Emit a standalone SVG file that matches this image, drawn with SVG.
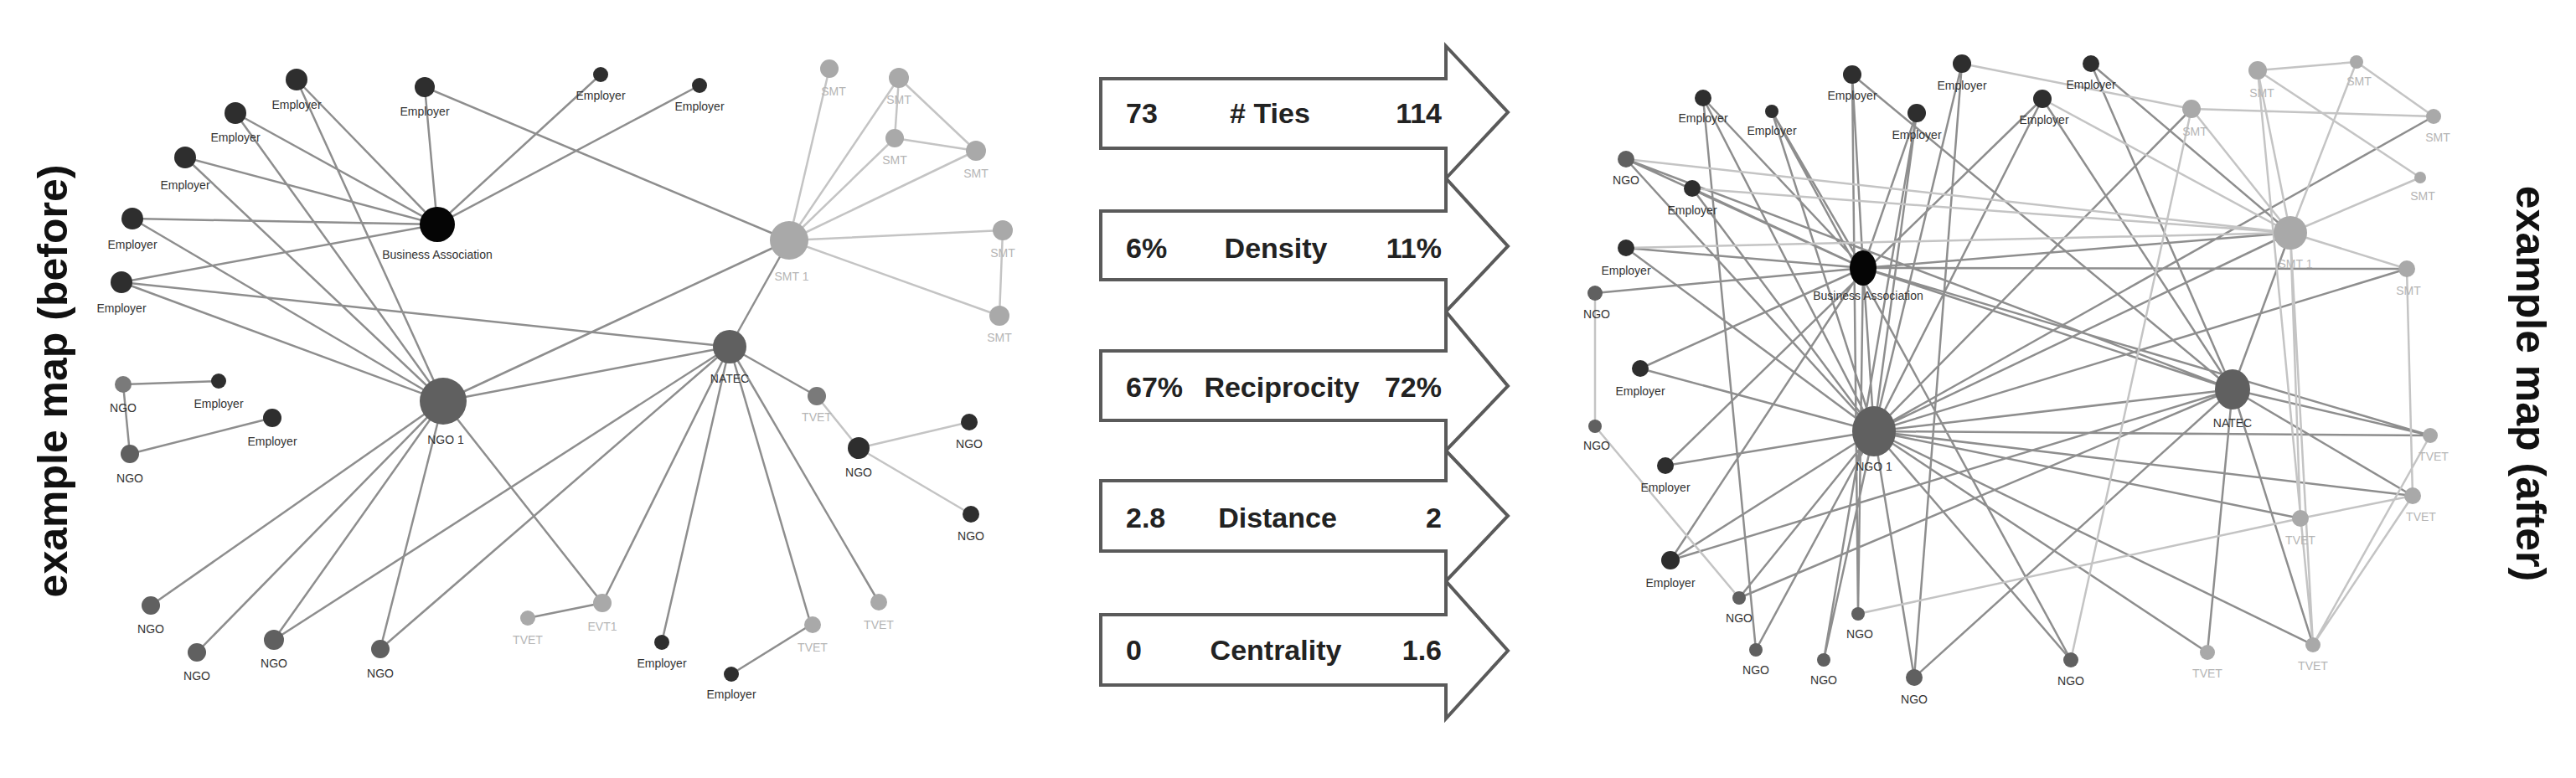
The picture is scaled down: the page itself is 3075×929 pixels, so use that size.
<svg xmlns="http://www.w3.org/2000/svg" width="3075" height="929" viewBox="0 0 3075 929">
<style>
.e{stroke:#8e8e8e;stroke-width:2.5;fill:none}
.f{stroke:#c4c4c4;stroke-width:2.5;fill:none}
.blk{fill:#050505}.dk{fill:#2e2e2e}.md{fill:#606060}.gy{fill:#7a7a7a}.lt{fill:#a9a9a9}
.l{font-family:"Liberation Sans",Arial,sans-serif;font-size:14px;fill:#333;text-anchor:middle}
.lg{font-family:"Liberation Sans",Arial,sans-serif;font-size:14px;fill:#b5b5b5;text-anchor:middle}
.a{fill:#fff;stroke:#5a5a5a;stroke-width:4;stroke-linejoin:miter}
.t{font-family:"Liberation Sans",Arial,sans-serif;font-weight:bold;font-size:34px;fill:#222}
.ti{font-family:"Liberation Sans",Arial,sans-serif;font-weight:bold;font-size:50px;fill:#111;text-anchor:middle}
</style>
<rect width="3075" height="929" fill="#fff"/>
<text class="ti" transform="translate(80,455) rotate(-90)">example map (before)</text>
<text class="ti" transform="translate(3004,458) rotate(90)">example map (after)</text>

<g id="connectors-before">
<path class="e" d="M522,268L354,95M522,268L281,135M522,268L221,188M522,268L158,261M522,268L145,337M522,268L507,104M522,268L717,89M522,268L835,102
M529,479L354,95M529,479L281,135M529,479L221,188M529,479L158,261M529,479L145,337M529,479L180,723M529,479L235,779M529,479L327,764M529,479L454,775M529,479L719,720M529,479L871,414M529,479L942,287
M507,104L942,287M145,337L871,414M871,414L942,287M871,414L975,473M871,414L719,720M871,414L790,767M871,414L968,746M871,414L1049,719M871,414L327,764M871,414L454,775
M630,738L719,720M873,805L968,746M147,459L261,455M147,459L155,542M155,542L325,499"/>
<path class="f" d="M975,473L1025,535M1025,535L1157,504M1025,535L1159,614M942,287L990,82M942,287L1073,93M942,287L1068,165M942,287L1165,180M942,287L1197,275M942,287L1193,377M1073,93L1068,165M1073,93L1165,180M1068,165L1165,180M1197,275L1193,377"/>
</g>

<g id="connectors-after">
<path class="e" d="M2224,320L2033,117M2224,320L2115,133M2224,320L2211,89M2224,320L2288,135M2224,320L1941,190M2224,320L2020,225M2224,320L1941,296M2224,320L1904,350M2224,320L1958,440M2224,320L2237,515M2224,320L2665,465M2224,320L2873,321M2224,320L2734,278M2224,320L2218,733M2224,320L1994,669M2224,320L2901,520
M2237,515L2033,117M2237,515L2115,133M2237,515L2288,135M2237,515L2342,76M2237,515L2438,118M2237,515L1941,190M2237,515L2020,225M2237,515L1958,440M2237,515L1988,556M2237,515L1994,669M2237,515L2076,714M2237,515L2096,776M2237,515L2177,788M2237,515L2285,809M2237,515L2472,788M2237,515L2635,779M2237,515L2761,770M2237,515L2665,465M2237,515L2734,278M2237,515L2616,130M2237,515L2905,139M2237,515L2873,321M2237,515L2901,520M2237,515L2880,592M2237,515L2746,619M2237,515L1941,296
M2665,465L2211,89M2665,465L2438,118M2665,465L2496,76M2665,465L2734,278M2665,465L2635,779M2665,465L2761,770M2665,465L2901,520M2665,465L2880,592M2665,465L1994,669M2665,465L2076,714M2665,465L2285,809M2665,465L1941,190
M2342,76L2285,809M2288,135L2177,788M2211,89L2218,733M2033,117L2096,776M2115,133L2472,788M2438,118L1988,556M2496,76L2734,278"/>
<path class="f" d="M2734,278L2695,84M2734,278L2813,74M2734,278L2889,212M2734,278L2873,321M2734,278L2438,118M2734,278L2616,130M2734,278L1941,190M2734,278L2020,225M2734,278L1941,296M2734,278L2746,619M2734,278L2761,770
M1904,350L1904,509M1904,509L2076,714M2616,130L2905,139M2695,84L2813,74M2813,74L2905,139M2880,592L2746,619M2746,619L2218,733M2901,520L2761,770M2880,592L2761,770M2695,84L2761,770M2616,130L2472,788M2873,321L2880,592M2616,130L2342,76M2695,84L2889,212"/>
</g>

<g id="arrows">
<polygon class="a" points="1314,94 1726,94 1726,55 1800,134 1726,213 1726,177 1314,177"/>
<polygon class="a" points="1314,252 1726,252 1726,213 1800,294 1726,372 1726,334 1314,334"/>
<polygon class="a" points="1314,419 1726,419 1726,372 1800,461 1726,538 1726,502 1314,502"/>
<polygon class="a" points="1314,574 1726,574 1726,538 1800,616 1726,694 1726,658 1314,658"/>
<polygon class="a" points="1314,734 1726,734 1726,694 1800,777 1726,858 1726,818 1314,818"/>
</g>
<g id="metrics">
<text class="t" x="1344" y="147">73</text><text class="t" x="1516" y="147" text-anchor="middle"># Ties</text><text class="t" x="1721" y="147" text-anchor="end">114</text>
<text class="t" x="1344" y="308">6%</text><text class="t" x="1523" y="308" text-anchor="middle">Density</text><text class="t" x="1721" y="308" text-anchor="end">11%</text>
<text class="t" x="1344" y="474">67%</text><text class="t" x="1530" y="474" text-anchor="middle">Reciprocity</text><text class="t" x="1721" y="474" text-anchor="end">72%</text>
<text class="t" x="1344" y="630">2.8</text><text class="t" x="1525" y="630" text-anchor="middle">Distance</text><text class="t" x="1721" y="630" text-anchor="end">2</text>
<text class="t" x="1344" y="788">0</text><text class="t" x="1523" y="788" text-anchor="middle">Centrality</text><text class="t" x="1721" y="788" text-anchor="end">1.6</text>
</g>

<g id="nodes-before">
<g id="b-ba"><circle class="blk" cx="522" cy="268" r="21"/><text class="l" x="522" y="309">Business Association</text></g>
<g id="b-ngo1"><circle class="md" cx="529" cy="479" r="28"/><text class="l" x="532" y="530">NGO 1</text></g>
<g id="b-natec"><circle class="md" cx="871" cy="414" r="20"/><text class="l" x="871" y="457">NATEC</text></g>
<g id="b-smt1"><circle class="lt" cx="942" cy="287" r="23"/><text class="lg" x="945" y="335">SMT 1</text></g>
<g id="b-e1"><circle class="dk" cx="354" cy="95" r="13"/><text class="l" x="354" y="130">Employer</text></g>
<g id="b-e2"><circle class="dk" cx="281" cy="135" r="13"/><text class="l" x="281" y="169">Employer</text></g>
<g id="b-e3"><circle class="dk" cx="221" cy="188" r="13"/><text class="l" x="221" y="226">Employer</text></g>
<g id="b-e4"><circle class="dk" cx="158" cy="261" r="13"/><text class="l" x="158" y="297">Employer</text></g>
<g id="b-e5"><circle class="dk" cx="145" cy="337" r="13"/><text class="l" x="145" y="373">Employer</text></g>
<g id="b-e6"><circle class="dk" cx="507" cy="104" r="12"/><text class="l" x="507" y="138">Employer</text></g>
<g id="b-e7"><circle class="dk" cx="717" cy="89" r="9"/><text class="l" x="717" y="119">Employer</text></g>
<g id="b-e8"><circle class="dk" cx="835" cy="102" r="9"/><text class="l" x="835" y="132">Employer</text></g>
<g id="b-n1"><circle class="gy" cx="147" cy="459" r="10"/><text class="l" x="147" y="492">NGO</text></g>
<g id="b-e9"><circle class="dk" cx="261" cy="455" r="9"/><text class="l" x="261" y="487">Employer</text></g>
<g id="b-e10"><circle class="dk" cx="325" cy="499" r="11"/><text class="l" x="325" y="532">Employer</text></g>
<g id="b-n2"><circle class="md" cx="155" cy="542" r="11"/><text class="l" x="155" y="576">NGO</text></g>
<g id="b-n3"><circle class="md" cx="180" cy="723" r="11"/><text class="l" x="180" y="756">NGO</text></g>
<g id="b-n4"><circle class="md" cx="235" cy="779" r="11"/><text class="l" x="235" y="812">NGO</text></g>
<g id="b-n5"><circle class="md" cx="327" cy="764" r="12"/><text class="l" x="327" y="797">NGO</text></g>
<g id="b-n6"><circle class="md" cx="454" cy="775" r="11"/><text class="l" x="454" y="809">NGO</text></g>
<g id="b-t1"><circle class="lt" cx="630" cy="738" r="9"/><text class="lg" x="630" y="769">TVET</text></g>
<g id="b-t2"><circle class="lt" cx="719" cy="720" r="11"/><text class="lg" x="719" y="753">EVT1</text></g>
<g id="b-e11"><circle class="dk" cx="790" cy="767" r="9"/><text class="l" x="790" y="797">Employer</text></g>
<g id="b-e12"><circle class="dk" cx="873" cy="805" r="9"/><text class="l" x="873" y="834">Employer</text></g>
<g id="b-t3"><circle class="lt" cx="970" cy="746" r="10"/><text class="lg" x="970" y="778">TVET</text></g>
<g id="b-t4"><circle class="lt" cx="1049" cy="719" r="10"/><text class="lg" x="1049" y="751">TVET</text></g>
<g id="b-t5"><circle class="gy" cx="975" cy="473" r="11"/><text class="lg" x="975" y="503">TVET</text></g>
<g id="b-n7"><circle class="dk" cx="1025" cy="535" r="13"/><text class="l" x="1025" y="569">NGO</text></g>
<g id="b-n8"><circle class="dk" cx="1157" cy="504" r="10"/><text class="l" x="1157" y="535">NGO</text></g>
<g id="b-n9"><circle class="dk" cx="1159" cy="614" r="10"/><text class="l" x="1159" y="645">NGO</text></g>
<g id="b-s1"><circle class="lt" cx="990" cy="82" r="11"/><text class="lg" x="995" y="114">SMT</text></g>
<g id="b-s2"><circle class="lt" cx="1073" cy="93" r="12"/><text class="lg" x="1073" y="124">SMT</text></g>
<g id="b-s3"><circle class="lt" cx="1068" cy="165" r="11"/><text class="lg" x="1068" y="196">SMT</text></g>
<g id="b-s4"><circle class="lt" cx="1165" cy="180" r="12"/><text class="lg" x="1165" y="212">SMT</text></g>
<g id="b-s5"><circle class="lt" cx="1197" cy="275" r="12"/><text class="lg" x="1197" y="307">SMT</text></g>
<g id="b-s6"><circle class="lt" cx="1193" cy="377" r="12"/><text class="lg" x="1193" y="408">SMT</text></g>
</g>

<g id="nodes-after">
<g id="a-ba"><ellipse class="blk" cx="2224" cy="320" rx="16" ry="21"/><text class="l" x="2230" y="358">Business Association</text></g>
<g id="a-ngo1"><ellipse class="md" cx="2237" cy="515" rx="26" ry="30"/><text class="l" x="2237" y="562">NGO 1</text></g>
<g id="a-natec"><ellipse class="md" cx="2665" cy="465" rx="21" ry="24"/><text class="l" x="2665" y="510">NATEC</text></g>
<g id="a-smt1"><circle class="lt" cx="2734" cy="278" r="20"/><text class="lg" x="2740" y="320">SMT 1</text></g>
<g id="a-e1"><circle class="dk" cx="2033" cy="117" r="10"/><text class="l" x="2033" y="146">Employer</text></g>
<g id="a-e2"><circle class="dk" cx="2115" cy="133" r="8"/><text class="l" x="2115" y="161">Employer</text></g>
<g id="a-e3"><circle class="dk" cx="2211" cy="89" r="11"/><text class="l" x="2211" y="119">Employer</text></g>
<g id="a-e4"><circle class="dk" cx="2288" cy="135" r="11"/><text class="l" x="2288" y="166">Employer</text></g>
<g id="a-e5"><circle class="dk" cx="2342" cy="76" r="11"/><text class="l" x="2342" y="107">Employer</text></g>
<g id="a-e6"><circle class="dk" cx="2438" cy="118" r="11"/><text class="l" x="2440" y="148">Employer</text></g>
<g id="a-e7"><circle class="dk" cx="2496" cy="76" r="10"/><text class="l" x="2496" y="106">Employer</text></g>
<g id="a-n1"><circle class="md" cx="1941" cy="190" r="10"/><text class="l" x="1941" y="220">NGO</text></g>
<g id="a-e8"><circle class="dk" cx="2020" cy="225" r="10"/><text class="l" x="2020" y="256">Employer</text></g>
<g id="a-e9"><circle class="dk" cx="1941" cy="296" r="10"/><text class="l" x="1941" y="328">Employer</text></g>
<g id="a-n2"><circle class="md" cx="1904" cy="350" r="9"/><text class="l" x="1906" y="380">NGO</text></g>
<g id="a-e10"><circle class="dk" cx="1958" cy="440" r="10"/><text class="l" x="1958" y="472">Employer</text></g>
<g id="a-n3"><circle class="md" cx="1904" cy="509" r="8"/><text class="l" x="1906" y="537">NGO</text></g>
<g id="a-e11"><circle class="dk" cx="1988" cy="556" r="10"/><text class="l" x="1988" y="587">Employer</text></g>
<g id="a-e12"><circle class="dk" cx="1994" cy="669" r="11"/><text class="l" x="1994" y="701">Employer</text></g>
<g id="a-n4"><circle class="md" cx="2076" cy="714" r="8"/><text class="l" x="2076" y="743">NGO</text></g>
<g id="a-n5"><circle class="md" cx="2096" cy="776" r="8"/><text class="l" x="2096" y="805">NGO</text></g>
<g id="a-n6"><circle class="md" cx="2218" cy="733" r="8"/><text class="l" x="2220" y="762">NGO</text></g>
<g id="a-n7"><circle class="md" cx="2177" cy="788" r="8"/><text class="l" x="2177" y="817">NGO</text></g>
<g id="a-n8"><circle class="md" cx="2285" cy="809" r="10"/><text class="l" x="2285" y="840">NGO</text></g>
<g id="a-n9"><circle class="md" cx="2472" cy="788" r="9"/><text class="l" x="2472" y="818">NGO</text></g>
<g id="a-t1"><circle class="lt" cx="2635" cy="779" r="9"/><text class="lg" x="2635" y="809">TVET</text></g>
<g id="a-t2"><circle class="lt" cx="2761" cy="770" r="9"/><text class="lg" x="2761" y="800">TVET</text></g>
<g id="a-l1"><circle class="lt" cx="2695" cy="84" r="11"/><text class="lg" x="2700" y="116">SMT</text></g>
<g id="a-l2"><circle class="lt" cx="2616" cy="130" r="11"/><text class="lg" x="2620" y="162">SMT</text></g>
<g id="a-l3"><circle class="lt" cx="2813" cy="74" r="8"/><text class="lg" x="2816" y="102">SMT</text></g>
<g id="a-l4"><circle class="lt" cx="2905" cy="139" r="9"/><text class="lg" x="2910" y="169">SMT</text></g>
<g id="a-l5"><circle class="lt" cx="2889" cy="212" r="7"/><text class="lg" x="2892" y="239">SMT</text></g>
<g id="a-l6"><circle class="lt" cx="2873" cy="321" r="10"/><text class="lg" x="2875" y="352">SMT</text></g>
<g id="a-l7"><circle class="lt" cx="2901" cy="520" r="9"/><text class="lg" x="2905" y="550">TVET</text></g>
<g id="a-l8"><circle class="lt" cx="2880" cy="592" r="10"/><text class="lg" x="2890" y="622">TVET</text></g>
<g id="a-l9"><circle class="lt" cx="2746" cy="619" r="10"/><text class="lg" x="2746" y="650">TVET</text></g>
</g>
</svg>
